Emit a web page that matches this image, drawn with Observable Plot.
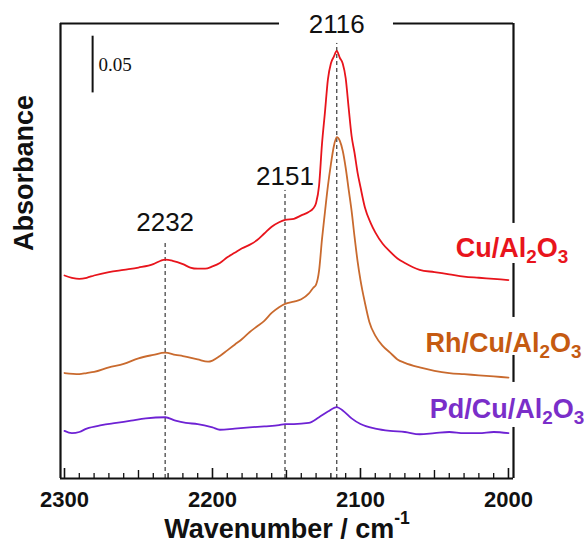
<!DOCTYPE html>
<html><head><meta charset="utf-8">
<script src="https://cdn.jsdelivr.net/npm/d3@7"></script>
<script src="https://cdn.jsdelivr.net/npm/@observablehq/plot@0.6"></script>
<style>
  html,body{margin:0;padding:0;background:#fff;}
  #chart{width:584px;height:543px;}
</style>
</head><body><div id="chart"></div>
<script>
// ---- Data ----
const seriesNames = ["Cu/Al2O3", "Rh/Cu/Al2O3", "Pd/Cu/Al2O3"];

const cuWn  = [2300,2295,2290,2285,2280,2270,2260,2250,2240,2235,2232,2227,2220,2215,2210,2205,2200,2195,2190,2185,2180,2175,2170,2165,2160,2155,2151,2145,2140,2135,2132,2130,2128,2126,2124,2122,2120,2118,2116,2114,2112,2110,2108,2106,2104,2102,2100,2097,2093,2090,2085,2080,2075,2070,2060,2050,2040,2030,2020,2010,2000];
const cuAbs = [0.179,0.177,0.176,0.177,0.179,0.182,0.184,0.186,0.189,0.192,0.193,0.192,0.189,0.186,0.185,0.185,0.187,0.190,0.195,0.199,0.203,0.206,0.210,0.216,0.222,0.226,0.228,0.229,0.232,0.235,0.238,0.243,0.258,0.295,0.323,0.352,0.366,0.372,0.377,0.371,0.366,0.353,0.327,0.302,0.287,0.270,0.257,0.239,0.225,0.217,0.207,0.200,0.194,0.190,0.184,0.182,0.180,0.178,0.177,0.176,0.175];

const rhWn  = [2300,2290,2285,2280,2270,2260,2250,2240,2232,2225,2220,2210,2203,2200,2195,2190,2185,2180,2175,2170,2165,2160,2155,2151,2145,2140,2135,2132,2130,2128,2126,2124,2122,2120,2118,2116,2114,2112,2110,2108,2106,2104,2102,2100,2097,2094,2090,2085,2080,2075,2070,2060,2050,2040,2030,2020,2010,2000];
const rhAbs = [0.093,0.092,0.093,0.094,0.098,0.101,0.106,0.109,0.111,0.109,0.108,0.105,0.103,0.104,0.108,0.113,0.118,0.123,0.129,0.134,0.139,0.146,0.151,0.154,0.156,0.158,0.163,0.168,0.171,0.183,0.211,0.235,0.258,0.277,0.293,0.301,0.298,0.289,0.274,0.255,0.236,0.213,0.192,0.175,0.155,0.138,0.126,0.117,0.111,0.105,0.102,0.098,0.095,0.093,0.092,0.091,0.090,0.089];

const pdWn  = [2300,2295,2290,2285,2275,2265,2255,2245,2232,2225,2218,2210,2200,2195,2185,2175,2165,2155,2151,2145,2135,2128,2122,2116,2112,2106,2100,2090,2080,2070,2060,2050,2040,2030,2020,2010,2000];
const pdAbs = [0.042,0.040,0.041,0.044,0.047,0.049,0.051,0.053,0.054,0.051,0.049,0.048,0.045,0.043,0.044,0.045,0.046,0.047,0.048,0.048,0.049,0.054,0.059,0.063,0.060,0.053,0.048,0.044,0.042,0.041,0.039,0.040,0.041,0.040,0.040,0.041,0.040];

// peak annotations
const peakWn    = [2232, 2151, 2116];
const peakLabel = ["2232", "2151", "2116"];
const peakLabelY = [0.226, 0.2657, 0.400];   // where each number sits
const peakLineTop = [0.208, 0.254, 0.3836];  // top of the dashed guide

// series labels (right side)
const labelX = [1997.6, 2003.4, 2001.0];
const labelY = [0.203, 0.119, 0.0613];

// x-axis ticks
const majorTicks = [2300, 2200, 2100, 2000];
const midTicks   = [2250, 2150, 2050];
const minorTicks = d3.range(2000, 2301, 10).filter(d => d % 50 !== 0);

// scale bar
const scaleBarX = 2281, scaleBarY1 = 0.34, scaleBarY2 = 0.39, scaleBarText = "0.05";

// frame extent & gaps (data units)
const xDomain = [2302.7, 1996.6];
const yDomain = [0, 0.4012];
const topSegments   = [[2302.7, 2154.7], [2077.7, 1996.6]];
const rightSegments = [[0.4012, 0.2249], [0.1896, 0.1420], [0.1085, 0.0847], [0.045, 0]];

const colors = {"Cu/Al2O3": "#e8141c", "Rh/Cu/Al2O3": "#c96a2e", "Pd/Cu/Al2O3": "#6e22d4"};
const labelColors = ["#e8141c", "#c55a11", "#7a2ec9"];

// ---- Build tables ----
const mk = (name, wn, ab) => wn.map((w, i) => ({series: name, wn: w, abs: ab[i]}));
const spectra = [mk(seriesNames[0], cuWn, cuAbs), mk(seriesNames[1], rhWn, rhAbs), mk(seriesNames[2], pdWn, pdAbs)];
const peaks = peakWn.map((w, i) => ({wn: w, label: peakLabel[i], ly: peakLabelY[i], top: peakLineTop[i]}));
const labels = seriesNames.map((n, i) => ({name: n, x: labelX[i], y: labelY[i], color: labelColors[i]}));

const font = "'Liberation Sans', Arial, Helvetica, sans-serif";

const svg = Plot.plot({
  width: 584, height: 543,
  marginLeft: 60, marginRight: 71, marginTop: 23, marginBottom: 65,
  x: {domain: xDomain},
  y: {domain: yDomain, axis: null},
  style: {fontFamily: font, background: "white", color: "#111"},
  marks: [
    // frame
    Plot.ruleX([xDomain[0]], {stroke: "#111", strokeWidth: 2.2}),
    Plot.ruleY([0], {stroke: "#111", strokeWidth: 2.2}),
    Plot.ruleY(topSegments, {y: () => yDomain[1], x1: d => d[0], x2: d => d[1], stroke: "#111", strokeWidth: 2.2}),
    Plot.ruleX(rightSegments, {x: () => xDomain[1], y1: d => d[0], y2: d => d[1], stroke: "#111", strokeWidth: 2.2}),
    // inward ticks
    Plot.ruleX(majorTicks, {x: d => d, y1: 0, y2: 0, insetTop: -10, stroke: "#111", strokeWidth: 1.6}),
    Plot.ruleX(midTicks, {x: d => d, y1: 0, y2: 0, insetTop: -8, stroke: "#111", strokeWidth: 1.4}),
    Plot.ruleX(minorTicks, {x: d => d, y1: 0, y2: 0, insetTop: -5, stroke: "#111", strokeWidth: 1.3}),
    // tick labels
    Plot.axisX({ticks: majorTicks, tickSize: 0, tickPadding: 13, tickFormat: d => String(d),
      fontSize: 22, fontWeight: "bold", label: null, fill: "#111"}),
    // dashed guides
    Plot.ruleX(peaks, {x: "wn", y1: 0, y2: "top", stroke: "#111", strokeWidth: 1, strokeDasharray: "4,3"}),
    // spectra
    ...spectra.map(s => Plot.line(s, {x: "wn", y: "abs", stroke: colors[s[0].series], strokeWidth: 1.8, curve: "monotone-x"})),
    // peak numbers
    Plot.text(peaks, {x: "wn", y: "ly", text: "label", fontSize: 26, fill: "#111", textAnchor: "middle"}),
    // series labels
    Plot.text(labels, {x: "x", y: "y", text: "name", fill: "color", fontSize: 27, fontWeight: "bold", textAnchor: "middle"}),
    // scale bar
    Plot.ruleX([scaleBarX], {y1: scaleBarY1, y2: scaleBarY2, stroke: "#111", strokeWidth: 2}),
    Plot.text([scaleBarText], {x: scaleBarX, y: (scaleBarY1 + scaleBarY2) / 2, text: d => d, dx: 6, textAnchor: "start",
      fontFamily: "'Liberation Serif', 'Times New Roman', serif", fontSize: 19, fill: "#111"}),
    // axis titles
    Plot.text(["Absorbance"], {frameAnchor: "left", text: d => d, rotate: -90, dx: -36, fontSize: 27, fontWeight: "bold", fill: "#111"}),
    Plot.text(["Wavenumber / cm-1"], {frameAnchor: "bottom", text: d => d, dy: 59, fontSize: 27, fontWeight: "bold", fill: "#111"})
  ]
});

// ---- rich text: subscripts and superscript ----
const NS = "http://www.w3.org/2000/svg";
function rebuild(t, parts) {
  t.textContent = "";
  let shift = 0;
  for (const [txt, off, small] of parts) {
    const ts = document.createElementNS(NS, "tspan");
    ts.setAttribute("dy", off - shift);
    shift = off;
    if (small) ts.style.fontSize = small;
    ts.textContent = txt;
    t.appendChild(ts);
  }
}
svg.querySelectorAll("text").forEach(t => {
  const s = t.textContent;
  if (/Al2O3$/.test(s)) {
    rebuild(t, [[s.replace(/Al2O3$/, "Al"), 0], ["2", 6, "70%"], ["O", 0], ["3", 6, "70%"]]);
  } else if (s === "Wavenumber / cm-1") {
    rebuild(t, [["Wavenumber / cm", 0], ["-1", -14, "65%"]]);
  }
});

document.getElementById("chart").appendChild(svg);
</script>
</body></html>
